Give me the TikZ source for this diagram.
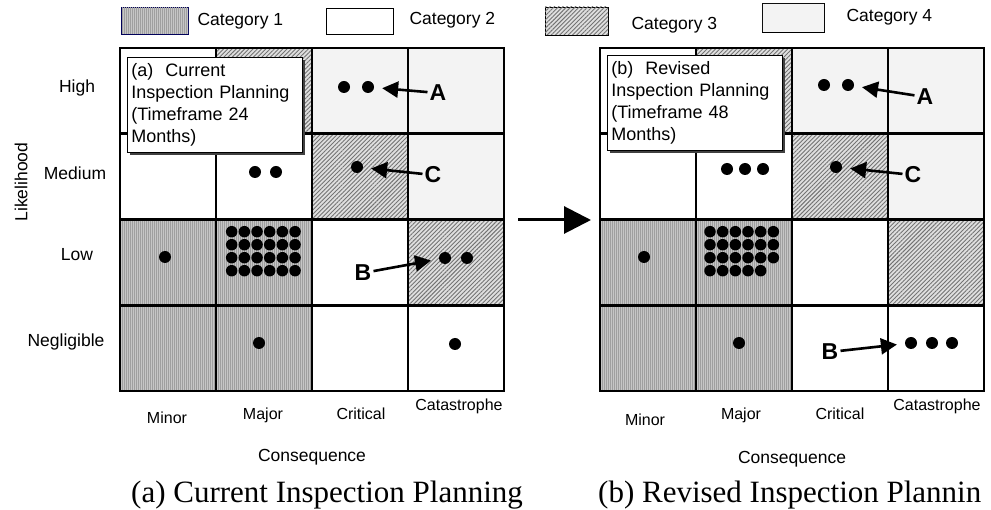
\documentclass[tikz,border=0pt]{standalone}
\usepackage{fontspec}
\setmainfont{Liberation Sans}
\newfontfamily\capfont{Liberation Serif}
\usetikzlibrary{arrows.meta,patterns.meta,shadows}

\tikzset{
  catone/.style={fill=gray!45,postaction={pattern={Lines[angle=90,distance=2pt,line width=0.5pt]},pattern color=gray!75}},
  cattwo/.style={fill=white},
  catthree/.style={fill=gray!25,postaction={pattern={Lines[angle=45,distance=3pt,line width=0.9pt]},pattern color=gray!90!black}},
  catfour/.style={fill=gray!5,postaction={pattern={Dots[distance=2pt,radius=0.35pt]},pattern color=gray!55}},
  grid/.style={line width=2.6pt},
  riskdot/.style={circle,fill=black,inner sep=0pt,minimum size=12pt},
  ptr/.style={line width=2.6pt,-{Triangle[length=16pt,width=16pt]},shorten >=8pt},
  letter/.style={font=\fontsize{23}{23}\selectfont\bfseries,inner sep=2pt},
  lbl/.style={font=\fontsize{17.5}{21}\selectfont},
  legbox/.style={draw,line width=0.8pt,inner sep=0pt},
  infobox/.style={draw,fill=white,line width=0.8pt,anchor=north west,align=left,
    text width=167pt,minimum height=95pt,inner sep=4pt,
    font=\fontsize{18}{22}\selectfont,
    drop shadow={shadow xshift=3pt,shadow yshift=-3pt,fill=black!75,opacity=1}},
}

\begin{document}
\begin{tikzpicture}[x=1pt,y=-1pt]
      \useasboundingbox (0,0) rectangle (991,510);
      \fill[white] (0,0) rectangle (991,510);
      % legend
      \node[legbox,catone,draw=blue!35!black,minimum width=67pt,minimum height=27pt] (legOne) at (154.5,20.5) {};
      \node[lbl,anchor=west] (legOneTxt) at (194,21) {Category 1};
      \node[legbox,cattwo,minimum width=67pt,minimum height=26pt] (legTwo) at (359.5,21) {};
      \node[lbl,anchor=west] (legTwoTxt) at (406,20) {Category 2};
      \node[legbox,catthree,minimum width=63pt,minimum height=28pt] (legThree) at (576.5,21) {};
      \node[lbl,anchor=west] (legThreeTxt) at (628,25) {Category 3};
      \node[legbox,catfour,minimum width=62pt,minimum height=29pt] (legFour) at (793,17.5) {};
      \node[lbl,anchor=west] (legFourTxt) at (843,17) {Category 4};
      %
      % both risk matrices
      \foreach \xo in {120,600}{
        \foreach \c/\r/\cat in {0/0/cattwo,1/0/catthree,2/0/catfour,3/0/catfour,
                                0/1/cattwo,1/1/cattwo,2/1/catthree,3/1/catfour,
                                0/2/catone,1/2/catone,2/2/cattwo,3/2/catthree,
                                0/3/catone,1/3/catone,2/3/cattwo,3/3/cattwo}
          \path[\cat] (\xo+96*\c,48+85.75*\r) rectangle ++(96,85.75);
        \foreach \c in {1,2,3} \draw[grid] (\xo+96*\c,48) -- ++(0,343);
        \foreach \r in {1,2,3} \draw[grid] (\xo,48+85.75*\r) -- ++(384,0);
        \draw[grid] (\xo,48) rectangle ++(384,343);
      }
      %
      % axis labels
      \node[lbl,rotate=90] (likeli) at (21,182) {Likelihood};
      \node[lbl] (rowHigh) at (77,88) {High};
      \node[lbl] (rowMed) at (75,173) {Medium};
      \node[lbl] (rowLow) at (77,255) {Low};
      \node[lbl] (rowNeg) at (66,342) {Negligible};
      \node[lbl,font=\fontsize{16}{19}\selectfont] (curMinor) at (167,418) {Minor};
      \node[lbl,font=\fontsize{16}{19}\selectfont] (curMajor) at (263,415) {Major};
      \node[lbl,font=\fontsize{16}{19}\selectfont] (curCrit) at (361,414) {Critical};
      \node[lbl,font=\fontsize{16}{19}\selectfont] (curCat) at (459,406) {Catastrophe};
      \node[lbl] (curConseq) at (312,457) {Consequence};
      \node[lbl,font=\fontsize{16}{19}\selectfont] (revMinor) at (645,420) {Minor};
      \node[lbl,font=\fontsize{16}{19}\selectfont] (revMajor) at (741,415) {Major};
      \node[lbl,font=\fontsize{16}{19}\selectfont] (revCrit) at (840,414) {Critical};
      \node[lbl,font=\fontsize{16}{19}\selectfont] (revCat) at (937,406) {Catastrophe};
      \node[lbl] (revConseq) at (792,459) {Consequence};
      \node[font=\capfont\fontsize{31}{31}\selectfont,anchor=base west,inner sep=0pt] (capCur) at (131,502) {(a) Current Inspection Planning};
      \node[font=\capfont\fontsize{31}{31}\selectfont,anchor=base west,inner sep=0pt] (capRev) at (598,502) {(b) Revised Inspection Plannin};
      %
      % text boxes
      \node[infobox] (boxCur) at (127,57) {(a)\ \ Current\\Inspection Planning\\(Timeframe 24\\Months)};
      \node[infobox] (boxRev) at (607,55) {(b)\ \ Revised\\Inspection Planning\\(Timeframe 48\\Months)};
      %
      % current planning dots
      \node[riskdot] (curA1) at (344,87) {};
      \node[riskdot] (curA2) at (368,87) {};
      \node[riskdot] (curMed1) at (255,172) {};
      \node[riskdot] (curMed2) at (276,172) {};
      \node[riskdot] (curC) at (357,167) {};
      \node[riskdot] (curLowMin) at (165,257) {};
      \foreach \i in {0,...,5} \foreach \j in {0,...,3}
        \node[riskdot,minimum size=11.5pt] (curLow-\i-\j) at (231.7+12.67*\i,231.7+13*\j) {};
      \node[riskdot] (curB1) at (445,258) {};
      \node[riskdot] (curB2) at (467,258) {};
      \node[riskdot] (curNegMaj) at (259,343) {};
      \node[riskdot] (curNegCat) at (455,344) {};
      \node[letter] (curAlbl) at (438,93) {A};
      \node[letter] (curClbl) at (433,175) {C};
      \node[letter] (curBlbl) at (363,273) {B};
      \draw[ptr] (curAlbl) -- (curA2);
      \draw[ptr] (curClbl) -- (curC);
      \draw[ptr] (curBlbl) -- (curB1);
      %
      % revised planning dots
      \node[riskdot] (revA1) at (824,85) {};
      \node[riskdot] (revA2) at (848,85) {};
      \node[riskdot] (revMed1) at (727,169) {};
      \node[riskdot] (revMed2) at (745,169) {};
      \node[riskdot] (revMed3) at (763,169) {};
      \node[riskdot] (revC) at (836,167) {};
      \node[riskdot] (revLowMin) at (644,257) {};
      \foreach \i in {0,...,5} \foreach \j in {0,...,2}
        \node[riskdot,minimum size=11.5pt] (revLow-\i-\j) at (710+12.67*\i,231.7+13*\j) {};
      \foreach \i in {0,...,4}
        \node[riskdot,minimum size=11.5pt] (revLow-\i-3) at (710+12.67*\i,270.7) {};
      \node[riskdot] (revNegMaj) at (739,343) {};
      \node[riskdot] (revB1) at (911,343) {};
      \node[riskdot] (revB2) at (932,343) {};
      \node[riskdot] (revB3) at (952,343) {};
      \node[letter] (revAlbl) at (925,97) {A};
      \node[letter] (revClbl) at (913,175) {C};
      \node[letter] (revBlbl) at (830,352) {B};
      \draw[ptr] (revAlbl) -- (revA2);
      \draw[ptr] (revClbl) -- (revC);
      \draw[ptr] (revBlbl) -- (revB1);
      %
      \coordinate (shiftFrom) at (518,220);
      \coordinate (shiftTo) at (591,220);
      \draw[line width=3pt,-{Triangle[length=27pt,width=27pt]}] (shiftFrom) -- (shiftTo);
    \end{tikzpicture}
\end{document}
